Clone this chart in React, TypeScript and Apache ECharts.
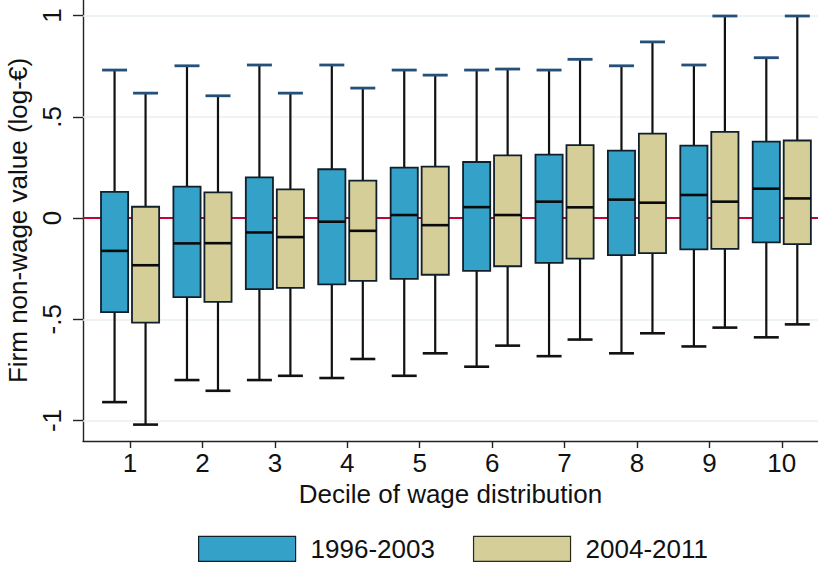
import React, { useEffect, useRef } from "react";
import * as echarts from "echarts";

// Deciles of the wage distribution
const deciles = [1, 2, 3, 4, 5, 6, 7, 8, 9, 10];

// Box statistics per decile: [lower whisker, Q1, median, Q3, upper whisker]
const period1Label = "1996-2003";
const period1Stats = [
  [-0.909, -0.465, -0.162, 0.129, 0.731],
  [-0.8, -0.39, -0.125, 0.155, 0.752],
  [-0.8, -0.351, -0.071, 0.201, 0.756],
  [-0.79, -0.327, -0.018, 0.241, 0.756],
  [-0.779, -0.3, 0.015, 0.249, 0.731],
  [-0.734, -0.261, 0.054, 0.277, 0.731],
  [-0.682, -0.221, 0.081, 0.313, 0.731],
  [-0.668, -0.183, 0.091, 0.333, 0.752],
  [-0.634, -0.155, 0.114, 0.358, 0.756],
  [-0.589, -0.12, 0.145, 0.378, 0.792],
];

const period2Label = "2004-2011";
const period2Stats = [
  [-1.02, -0.516, -0.233, 0.056, 0.617],
  [-0.853, -0.414, -0.124, 0.127, 0.604],
  [-0.779, -0.345, -0.094, 0.142, 0.617],
  [-0.696, -0.31, -0.063, 0.185, 0.642],
  [-0.668, -0.28, -0.035, 0.254, 0.706],
  [-0.63, -0.238, 0.015, 0.31, 0.736],
  [-0.6, -0.2, 0.053, 0.36, 0.784],
  [-0.569, -0.173, 0.076, 0.417, 0.87],
  [-0.541, -0.152, 0.081, 0.426, 0.998],
  [-0.525, -0.129, 0.097, 0.383, 0.998],
];

const yTicks = [-1, -0.5, 0, 0.5, 1];

const BLUE = "#34a1c9";
const TAN = "#d5ce99";
const CAP_TOP = "#24507a";
const FONT = "Liberation Sans, Arial, sans-serif";
const FS = 26;

const formatTick = (v: number) => {
  if (v === 0) return "0";
  return String(v).replace("0.", ".");
};

function boxRenderer(offset: number) {
  return (params: any, api: any) => {
    const x = api.value(0) + offset;
    const low = api.value(1);
    const q1 = api.value(2);
    const med = api.value(3);
    const q3 = api.value(4);
    const high = api.value(5);
    const unit = api.size([1, 0])[0];
    const boxW = unit * 0.375;
    const capW = unit * 0.345;
    const pLow = api.coord([x, low]);
    const pQ1 = api.coord([x, q1]);
    const pMed = api.coord([x, med]);
    const pQ3 = api.coord([x, q3]);
    const pHigh = api.coord([x, high]);
    const cx = pMed[0];
    const fill = api.visual("color");
    const line = (x1: number, y1: number, x2: number, y2: number, stroke: string, w: number) => ({
      type: "line",
      shape: { x1, y1, x2, y2 },
      style: { stroke, lineWidth: w },
    });
    return {
      type: "group",
      children: [
        line(cx, pQ3[1], cx, pHigh[1], "#111", 2.2),
        line(cx, pQ1[1], cx, pLow[1], "#111", 2.2),
        line(cx - capW / 2, pHigh[1], cx + capW / 2, pHigh[1], CAP_TOP, 2.8),
        line(cx - capW / 2, pLow[1], cx + capW / 2, pLow[1], "#111", 2.6),
        {
          type: "rect",
          shape: { x: cx - boxW / 2, y: pQ3[1], width: boxW, height: pQ1[1] - pQ3[1] },
          style: { fill, stroke: "#10202a", lineWidth: 1.8 },
        },
        line(cx - boxW / 2, pMed[1], cx + boxW / 2, pMed[1], "#0a0a0a", 2.6),
      ],
    };
  };
}

const toData = (stats: number[][]) => stats.map((s, i) => [deciles[i], ...s]);

export default function App() {
  const ref = useRef<HTMLDivElement>(null);

  useEffect(() => {
    if (!ref.current) return;
    const chart = echarts.init(ref.current, undefined, { renderer: "svg" });
    chart.setOption({
      animation: false,
      backgroundColor: "#ffffff",
      textStyle: { fontFamily: FONT },
      grid: {
        left: 83,
        right: 0,
        top: 0,
        bottom: 127,
        containLabel: false,
        outerBoundsMode: "none",
      },
      legend: {
        left: 193,
        bottom: 1,
        itemWidth: 97,
        itemHeight: 25,
        itemGap: 38,
        icon: "rect",
        textStyle: { fontSize: FS, color: "#111", fontFamily: FONT, padding: [0, 0, 0, 10] },
        data: [
          { name: period1Label, itemStyle: { color: BLUE, borderColor: "#10202a", borderWidth: 1.2 } },
          { name: period2Label, itemStyle: { color: TAN, borderColor: "#2a2a1a", borderWidth: 1.2 } },
        ],
      },
      xAxis: {
        type: "value",
        min: 0.35,
        max: 10.5,
        name: "Decile of wage distribution",
        nameLocation: "middle",
        nameGap: 40,
        nameTextStyle: { fontSize: FS, color: "#111", fontFamily: FONT },
        axisLine: { show: true, onZero: false, lineStyle: { color: "#222", width: 1.4 } },
        axisTick: { show: true, length: 7, customValues: deciles, lineStyle: { color: "#222", width: 1.4 } },
        axisLabel: {
          customValues: deciles,
          fontSize: FS,
          color: "#111",
          margin: 9,
          fontFamily: FONT,
        },
        splitLine: { show: false },
      },
      yAxis: {
        type: "value",
        min: -1.101,
        max: 1.077,
        name: "Firm non-wage value (log-€)",
        nameLocation: "middle",
        nameRotate: 90,
        nameGap: 48,
        nameTextStyle: { fontSize: FS, color: "#111", fontFamily: FONT },
        axisLine: { show: true, lineStyle: { color: "#222", width: 1.4 } },
        axisTick: { show: true, length: 10, customValues: yTicks, lineStyle: { color: "#222", width: 1.4 } },
        axisLabel: {
          customValues: yTicks,
          rotate: 90,
          fontSize: FS,
          color: "#111",
          margin: 18,
          fontFamily: FONT,
          formatter: (v: number) => formatTick(v),
        },
        splitLine: { show: false },
      },
      series: [
        {
          name: period1Label,
          type: "custom",
          itemStyle: { color: BLUE },
          renderItem: boxRenderer(-0.214),
          data: toData(period1Stats),
          encode: { x: 0, y: [1, 2, 3, 4, 5] },
          z: 3,
          markLine: {
            silent: true,
            symbol: "none",
            label: { show: false },
            data: [
              ...yTicks.filter((t) => t !== 0).map((t) => ({
                yAxis: t,
                lineStyle: { color: "#e8eff2", width: 1.6, type: "solid" },
              })),
              { yAxis: 0, lineStyle: { color: "#c10534", width: 2, type: "solid" } },
            ],
            z: 1,
          },
        },
        {
          name: period2Label,
          type: "custom",
          itemStyle: { color: TAN },
          renderItem: boxRenderer(0.214),
          data: toData(period2Stats),
          encode: { x: 0, y: [1, 2, 3, 4, 5] },
          z: 3,
        },
      ],
    });
    return () => chart.dispose();
  }, []);

  return (
    <div
      ref={ref}
      style={{ position: "fixed", left: 0, top: 0, width: 818, height: 568, background: "#fff" }}
    />
  );
}
